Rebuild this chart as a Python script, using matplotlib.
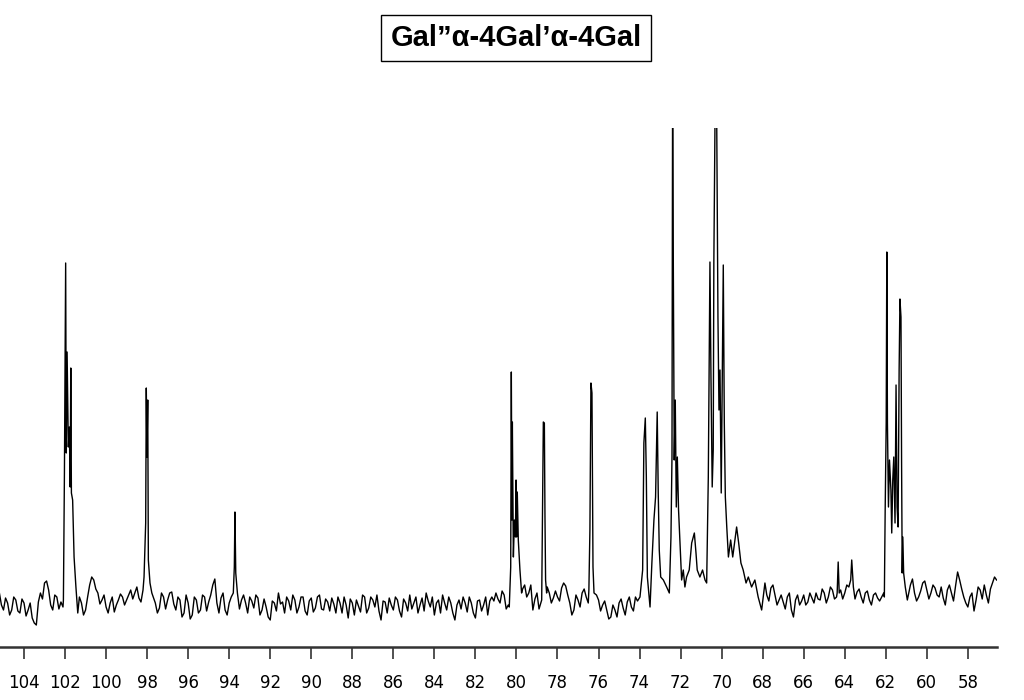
import numpy as np
import matplotlib
matplotlib.use("Agg")
import matplotlib.pyplot as plt

# chemical shift axis (ppm), tick labels
tick_ppm = [104, 102, 100, 98, 96, 94, 92, 90, 88, 86, 84, 82,
            80, 78, 76, 74, 72, 70, 68, 66, 64, 62, 60, 58]

nan = np.nan
# baseline noise read every 0.2 ppm from 105.2 down to 56.6 (nan = inside a peak cluster)
base_start, base_step = 105.2, -0.2
base_vals = [
    14, -3, 4, -3, 7, -6, 4, -3, -11, -18,
    14, 24, 17, -3, 10, 5, nan, nan, nan, nan,
    4, -3, 22, 27, 14, 7, 0, 4, -5, 7,
    10, 7, 17, 14, 9, 17, nan, nan, 4, -1,
    10, 7, 15, -3, 7, -6, 4, -8, 7, -3,
    10, 5, 22, 4, 9, -3, 4, nan, nan, 7,
    4, 10, -1, 9, -3, 0, -13, 4, 14, 5,
    10, -3, 7, 0, 10, -8, 9, -1, 12, -3,
    5, 9, -6, 4, 10, -11, 4, 7, -5, 10,
    -1, 7, 12, -13, 5, 9, -3, 7, -10, 4,
    12, 4, -6, 9, 14, 0, -8, 7, 12, -3,
    4, -13, 7, 10, -5, 4, -11, 7, 2, -8,
    10, 14, 4, 12, 2, nan, nan, nan, 22, 14,
    -3, 14, nan, nan, 14, 9, 10, 19, 21, 4,
    -3, 7, 14, 10, nan, nan, 7, 2, -3, -10,
    -3, 4, -1, 5, 0, 10, nan, nan, nan, nan,
    nan, nan, nan, nan, nan, nan, nan, nan, nan, nan,
    nan, nan, nan, nan, nan, nan, nan, nan, nan, nan,
    nan, nan, nan, nan, nan, nan, nan, 12, 19, 12,
    7, 5, 10, -3, 7, 2, 12, 5, 9, 14,
    7, 14, 10, 17, 10, 17, 14, 20, nan, 15,
    10, 14, 7, 12, 9, 10, nan, nan, nan, nan,
    nan, nan, 22, 14, 10, 24, 17, 14, 19, 10,
    9, 17, 14, 21, 27, 10, 0, 14, 7, 17,
    22, 4, 24, 27,
]
# baseline noise at the half steps (105.1, 104.9, ... 56.7)
base_mid = [
    2, 9, -8, 10, -4, 8, -9, 4, -16, 5,
    8, 26, 2, 12, -2, 0, nan, nan, nan, 10,
    -8, 10, 30, 18, 3, 12, -6, 10, 2, 13,
    2, 12, 8, 20, 5, nan, nan, 10, -6, 14,
    -2, 14, 3, 10, -10, 12, -12, 10, -6, 12,
    -4, 12, 28, -6, 14, -8, 10, nan, -2, 12,
    -6, 6, 12, -8, 8, -10, 6, -4, 3, -6,
    6, 12, -6, 10, -4, 6, -5, 10, -2, 8,
    -4, 3, 10, -6, 2, 8, -8, 1, 12, -6,
    10, 0, -4, 6, -6, 2, 10, -4, 8, -4,
    -2, 10, 2, -4, 6, 10, 4, -6, 4, 10,
    -6, 2, -2, 4, 10, -6, 6, -4, 10, 6,
    6, 8, 16, -2, nan, nan, nan, 18, 10, 22,
    8, -2, nan, 20, 4, 16, 6, 24, 12, -8,
    12, 0, 18, 4, nan, 12, -4, 6, -12, 2,
    -10, 8, -8, 10, -4, 6, nan, nan, nan, nan,
    nan, nan, nan, nan, nan, nan, nan, nan, nan, nan,
    nan, nan, nan, nan, nan, nan, nan, nan, nan, nan,
    nan, nan, nan, nan, nan, nan, nan, 6, 22, 2,
    12, -2, 14, -10, 12, 6, 2, 14, 4, 8,
    18, 4, 20, 8, nan, 8, 22, nan, 8, 18,
    4, 16, 2, 14, 6, 14, nan, nan, nan, nan,
    nan, 12, 28, 6, 16, 26, 8, 22, 12, 20,
    2, 22, 6, 35, 18, 4, 10, -4, 20, 8,
    12, 18, 30,
]

# peak clusters traced point by point (ppm, intensity)
c1_ppm = [102.08, 102.03, 101.97, 101.94, 101.90, 101.84, 101.79, 101.75, 101.72,
          101.69, 101.63, 101.56, 101.47, 101.38]
c1_int = [7, 134, 344, 154, 255, 160, 180, 120, 239, 114, 107, 50, 20, -6]

c2_ppm = [98.15, 98.07, 98.04, 98.01, 97.97, 97.94, 97.86, 97.77]
c2_int = [30, 84, 219, 150, 207, 47, 24, 14]

c3_ppm = [93.80, 93.75, 93.72, 93.68, 93.60]
c3_int = [14, 40, 95, 34, 14]

c4_ppm = [80.35, 80.28, 80.25, 80.22, 80.20, 80.15, 80.10, 80.05, 80.02, 79.99,
          79.96, 79.91, 79.83, 79.75]
c4_int = [0, 40, 235, 87, 185, 50, 87, 70, 127, 70, 115, 67, 37, 14]

c5_ppm = [78.77, 78.74, 78.69, 78.64, 78.61, 78.58, 78.53]
c5_int = [7, 74, 185, 184, 90, 27, 14]

c6_ppm = [76.47, 76.42, 76.37, 76.32, 76.27, 76.22]
c6_int = [17, 77, 224, 214, 40, 14]

c7_ppm = [73.98, 73.85, 73.79, 73.72, 73.67, 73.62, 73.49, 73.40, 73.30, 73.22,
          73.14, 73.09, 73.04, 72.97, 72.84, 72.68, 72.55, 72.47, 72.42, 72.39,
          72.36, 72.31, 72.26, 72.21, 72.16, 72.10, 72.03, 71.95, 71.87, 71.79,
          71.71, 71.58, 71.46, 71.33, 71.25, 71.19, 71.06, 70.93, 70.81, 70.73,
          70.65, 70.60, 70.57, 70.52, 70.46, 70.41, 70.38, 70.31, 70.25, 70.18,
          70.13, 70.08, 70.02, 69.92, 69.87, 69.82, 69.75, 69.67, 69.56, 69.46,
          69.37, 69.27, 69.17, 69.06, 68.95, 68.81, 68.70, 68.54, 68.38, 68.22,
          68.05, 67.89]
c7_int = [10, 37, 164, 189, 130, 30, 0, 44, 87, 110,
          195, 114, 57, 30, 27, 20, 14, 70, 150, 520,
          364, 147, 207, 100, 150, 97, 64, 27, 37, 20,
          30, 37, 64, 74, 54, 37, 30, 37, 27, 24,
          130, 264, 345, 230, 120, 157, 344, 520, 520, 290,
          197, 237, 114, 342, 184, 110, 80, 50, 67, 50,
          64, 80, 64, 44, 37, 24, 30, 20, 27, 10,
          -3, 24]

c8_ppm = [64.37, 64.32, 64.27]
c8_int = [14, 45, 14]

c9_ppm = [63.71, 63.66, 63.58]
c9_int = [27, 47, 20]

c10_ppm = [62.07, 62.03, 61.98, 61.95, 61.92, 61.87, 61.82, 61.75, 61.71, 61.66,
           61.61, 61.55, 61.50, 61.45, 61.40, 61.35, 61.31, 61.26, 61.23, 61.20,
           61.17, 61.13, 61.05, 60.95]
c10_int = [10, 97, 184, 355, 184, 100, 147, 117, 74, 127,
           150, 84, 222, 100, 80, 237, 308, 290, 144, 34,
           70, 34, 20, 7]

clusters = [(c1_ppm, c1_int), (c2_ppm, c2_int), (c3_ppm, c3_int), (c4_ppm, c4_int),
            (c5_ppm, c5_int), (c6_ppm, c6_int), (c7_ppm, c7_int), (c8_ppm, c8_int),
            (c9_ppm, c9_int), (c10_ppm, c10_int)]

# merge baseline samples and clusters into one trace
bx = np.concatenate([base_start + base_step * np.arange(len(base_vals)),
                     base_start + base_step * (np.arange(len(base_mid)) + 0.5)])
by = np.array(base_vals + base_mid, dtype=float)
keep = ~np.isnan(by)
for cp, ci in clusters:
    keep &= ~((bx <= max(cp)) & (bx >= min(cp)))
xs = list(bx[keep])
ys = list(by[keep])
for cp, ci in clusters:
    xs += cp
    ys += ci
order = np.argsort(xs)[::-1]
xs = np.array(xs)[order]
ys = np.array(ys)[order]

fig = plt.figure(figsize=(10.24, 7), dpi=100)
ax = fig.add_axes([0.0, 1 - 647 / 700, 997 / 1024, (647 - 128) / 700])
ax.plot(xs, ys, color="black", lw=1.0)

ax.set_xlim(105.17, 56.58)
ax.set_ylim(-40, 479)
for s in ["top", "left", "right"]:
    ax.spines[s].set_visible(False)
ax.spines["bottom"].set_linewidth(1.8)
ax.spines["bottom"].set_color("#333333")
ax.set_yticks([])
ax.set_xticks(tick_ppm)
ax.set_xticklabels([str(t) for t in tick_ppm],
                   fontfamily=["Liberation Sans Narrow", "DejaVu Sans"], fontsize=12)
ax.tick_params(axis="x", direction="out", length=8.5, width=1.2, pad=11, color="#333333")

fig.text(516 / 1024, 1 - 38 / 700, "Gal\u201d\u03b1-4Gal\u2019\u03b1-4Gal",
         ha="center", va="center", fontsize=21, fontweight="bold",
         family=["Liberation Sans", "DejaVu Sans"],
         bbox=dict(boxstyle="square,pad=0.32", fc="white", ec="black", lw=1.0))

fig.savefig("out.png", dpi=100)
